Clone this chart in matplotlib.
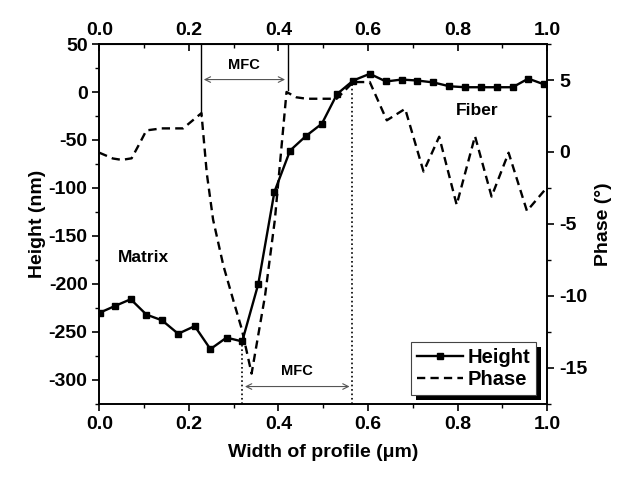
import matplotlib.pyplot as plt
from matplotlib.ticker import MultipleLocator
from matplotlib.patches import Rectangle

plt.rcParams['font.family'] = ['Liberation Sans', 'DejaVu Sans']
plt.rcParams['font.weight'] = 'bold'
plt.rcParams['axes.unicode_minus'] = False

# Height profile (left axis)
height_x = [0.001, 0.035, 0.070, 0.105, 0.140, 0.176, 0.213, 0.248, 0.284, 0.319,
            0.355, 0.391, 0.426, 0.461, 0.497, 0.531, 0.567, 0.604, 0.640, 0.675,
            0.710, 0.746, 0.782, 0.817, 0.852, 0.888, 0.923, 0.958, 0.993]
height_y = [-230, -223, -216, -232, -238, -252, -244, -268, -256, -260,
            -200, -104, -61, -46, -33, -2, 12, 19, 11, 13,
            12, 10, 6, 5, 5, 5, 5, 14, 8]

# Phase profile (right axis)
phase_x = [0.0, 0.03, 0.05, 0.072, 0.09, 0.105, 0.139, 0.187, 0.228, 0.240, 0.254,
           0.277, 0.300, 0.318, 0.340, 0.370, 0.392, 0.418, 0.44, 0.463, 0.530,
           0.567, 0.604, 0.642, 0.683, 0.724, 0.759, 0.798, 0.839, 0.876, 0.914,
           0.955, 0.996]
phase_y = [-0.05, -0.45, -0.55, -0.44, 0.6, 1.5, 1.64, 1.64, 2.7, -1.5, -4.7,
           -7.9, -10.4, -12.3, -15.4, -10.0, -4.7, 4.17, 3.8, 3.7, 3.7,
           4.86, 4.86, 2.2, 3.0, -1.36, 1.06, -3.67, 1.1, -3.1, -0.05,
           -4.1, -2.6]

fig = plt.figure(figsize=(6.21, 4.79), dpi=100)
ax = fig.add_axes([0.160, 0.157, 0.721, 0.751])
ax2 = ax.twinx()

l1, = ax.plot(height_x, height_y, color='black', lw=1.7, marker='s', ms=5, label='Height')
l2, = ax2.plot(phase_x, phase_y, color='black', lw=1.7, ls=(0, (3.5, 2.2)), label='Phase')

ax.set_xlim(0, 1.0)
ax.set_ylim(-325, 50)
ax2.set_ylim(-17.5, 7.5)

ax.xaxis.set_major_locator(MultipleLocator(0.2))
ax.xaxis.set_minor_locator(MultipleLocator(0.1))
ax.yaxis.set_major_locator(MultipleLocator(50))
ax.yaxis.set_minor_locator(MultipleLocator(25))
ax2.yaxis.set_major_locator(MultipleLocator(5))
ax2.yaxis.set_minor_locator(MultipleLocator(2.5))

ax.tick_params(which='major', direction='out', length=5, width=1.2, labelsize=14)
ax.tick_params(which='minor', direction='out', length=3, width=1.0)
ax2.tick_params(which='major', direction='out', length=5, width=1.2, labelsize=14)
ax2.tick_params(which='minor', direction='out', length=3, width=1.0)

top = ax.secondary_xaxis('top')
top.xaxis.set_major_locator(MultipleLocator(0.2))
top.xaxis.set_minor_locator(MultipleLocator(0.1))
top.tick_params(which='major', direction='in', length=5, width=1.2, labelsize=14, pad=4)
top.tick_params(which='minor', direction='in', length=3, width=1.0)
top.xaxis.set_major_formatter(lambda v, p: f'{v:.1f}')
ax.xaxis.set_major_formatter(lambda v, p: f'{v:.1f}')

for a in (ax, ax2):
    for s in a.spines.values():
        s.set_linewidth(1.2)

ax.set_xlabel('Width of profile (\u03bcm)', fontsize=14, fontweight='bold', labelpad=8)
ax.set_ylabel('Height (nm)', fontsize=14, fontweight='bold', labelpad=2)
ax2.set_ylabel('Phase (\u00b0)', fontsize=14, fontweight='bold', labelpad=6)

# MFC annotations (top)
ax.plot([0.227, 0.227], [-25, 50], color='black', lw=1.0)
ax.plot([0.421, 0.421], [2, 50], color='black', lw=1.0)
ax.annotate('', xy=(0.227, 13), xytext=(0.421, 13),
            arrowprops=dict(arrowstyle='<->', color='#555555', lw=0.8))
ax.text(0.324, 28, 'MFC', ha='center', va='center', fontsize=10.5, fontweight='bold')

# MFC annotations (bottom)
ax.plot([0.319, 0.319], [-325, -260], color='black', lw=1.2, ls=':')
ax.plot([0.565, 0.565], [-325, 12], color='black', lw=1.2, ls=':')
ax.annotate('', xy=(0.319, -307), xytext=(0.565, -307),
            arrowprops=dict(arrowstyle='<->', color='#555555', lw=0.8))
ax.text(0.442, -291, 'MFC', ha='center', va='center', fontsize=10.5, fontweight='bold')

ax.text(0.843, -19, 'Fiber', ha='center', va='center', fontsize=12.5, fontweight='bold')
ax.text(0.098, -172, 'Matrix', ha='center', va='center', fontsize=12.5, fontweight='bold')

leg = ax2.legend(handles=[l1, l2], loc='lower right', bbox_to_anchor=(0.975, 0.025),
                 fontsize=14.5, frameon=True, fancybox=False, framealpha=1.0,
                 handlelength=2.3, handletextpad=0.2, borderpad=0.3,
                 labelspacing=0.15, borderaxespad=0)
leg.get_frame().set_edgecolor('#444444')
leg.get_frame().set_linewidth(0.8)
leg.set_zorder(10)
for t in leg.get_texts():
    t.set_fontweight('bold')

# black drop shadow behind the legend box
fig.canvas.draw()
bb = leg.get_window_extent().transformed(fig.transFigure.inverted())
dx, dy = 5 / 621, 5 / 479
ax2.add_patch(Rectangle((bb.x0 + dx, bb.y0 - dy), bb.width, bb.height,
                        transform=fig.transFigure, facecolor='black',
                        edgecolor='none', zorder=9, clip_on=False))

fig.savefig('out.png', dpi=100)
